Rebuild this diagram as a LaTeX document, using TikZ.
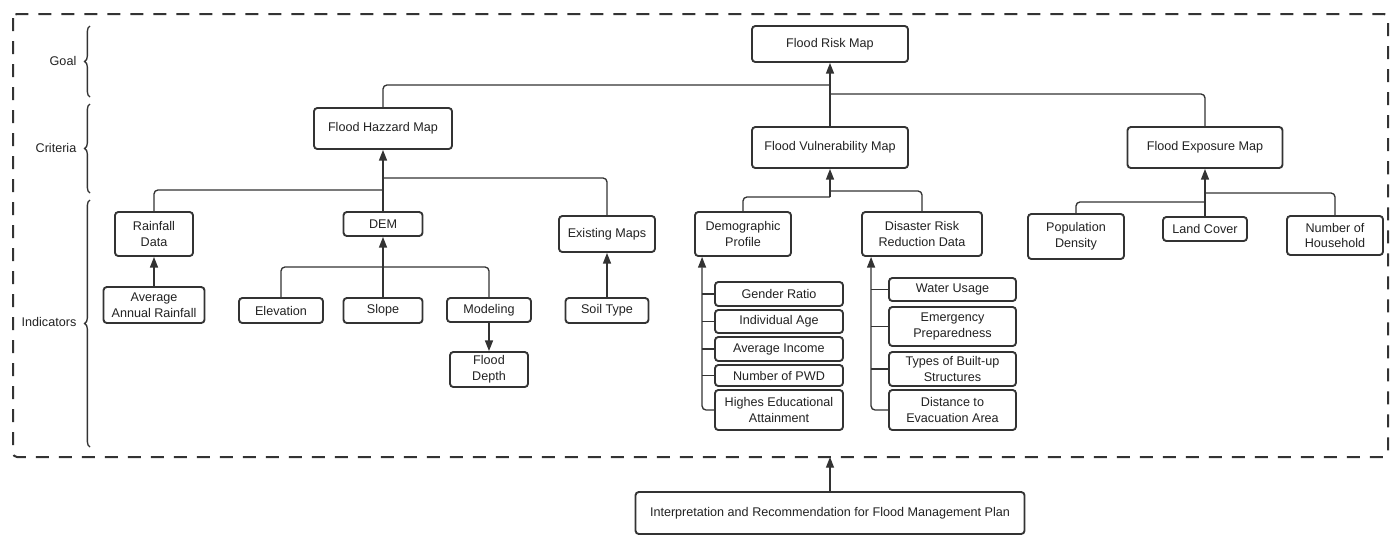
\documentclass[tikz,border=0pt]{standalone}
\usepackage{fontspec}
\setmainfont{Liberation Sans}
\usetikzlibrary{arrows.meta,decorations.pathreplacing,calc}
\definecolor{ink}{HTML}{333333}
\definecolor{txt}{HTML}{222222}
\begin{document}
\begin{tikzpicture}[x=0.75pt,y=-0.75pt,
  font=\fontsize{9.45}{11.8}\selectfont,
  box/.style 2 args={draw=ink, line width=1.4pt, rounded corners=2.5pt, fill=white,
    text=txt, align=center, inner sep=0pt,
    minimum width=#1*0.75pt, minimum height=#2*0.75pt},
  conn/.style={draw=ink, line width=1pt, rounded corners=3pt},
  tip/.style={-{Triangle[length=8pt,width=6pt]}},
  lbl/.style={text=txt},
  curly/.style={draw=ink, line width=1pt, decorate, decoration={brace, amplitude=4pt}}
]
\useasboundingbox[fill=white] (0,0) rectangle (1396,536);

% outer frame around the hierarchy
\draw[ink, line width=1.5pt, dash pattern=on 9.75pt off 7.5pt, rounded corners=3pt]
  (13,14) rectangle (1388,457);
\coordinate (frameB) at (830,457);

% level labels with braces
\draw[curly] (90,97) -- (90,26);
\draw[curly] (90,193) -- (90,104);
\draw[curly] (90,447) -- (90,200);
\node[lbl] (lgoal) at (63,61) {Goal};
\node[lbl] (lcrit) at (56,148) {Criteria};
\node[lbl] (lind) at (49,322) {Indicators};

% goal and criteria
\node[box={156}{36}] (frm) at (830,44) {Flood Risk Map};
\node[box={138}{41}] (fhm) at (383,128.5) {Flood Hazzard Map};
\node[box={156}{41}] (fvm) at (830,147.5) {Flood Vulnerability Map};
\node[box={155}{41}] (fem) at (1205,147.5) {Flood Exposure Map};

% indicators: hazard
\node[box={78}{44}] (rd) at (154,234) {Rainfall\\Data};
\node[box={79}{24}] (dem) at (383,224) {DEM};
\node[box={96}{36}] (exm) at (607,234) {Existing Maps};
\node[box={101}{36}] (aar) at (154,305) {Average\\Annual Rainfall};
\node[box={84}{25}] (elev) at (281,310.5) {Elevation};
\node[box={79}{25}] (slope) at (383,310.5) {Slope};
\node[box={84}{24}] (model) at (489,310) {Modeling};
\node[box={78}{35}] (fd) at (489,369.5) {Flood\\Depth};
\node[box={83}{25}] (soil) at (607,310.5) {Soil Type};

% indicators: vulnerability
\node[box={96}{44}] (dp) at (743,234) {Demographic\\Profile};
\node[box={120}{44}] (drr) at (922,234) {Disaster Risk\\Reduction Data};
\node[box={128}{24}] (ger) at (779,294) {Gender Ratio};
\node[box={128}{23}] (age) at (779,321.5) {Individual Age};
\node[box={128}{24}] (inc) at (779,349) {Average Income};
\node[box={128}{21}] (pwd) at (779,375.5) {Number of PWD};
\node[box={128}{40}] (hea) at (779,410) {Highes Educational\\Attainment};
\node[box={127}{23}] (wat) at (952.5,289.5) {Water Usage};
\node[box={127}{39}] (emg) at (952.5,326.5) {Emergency\\Preparedness};
\node[box={127}{34}] (typ) at (952.5,369) {Types of Built-up\\Structures};
\node[box={127}{40}] (dist) at (952.5,410) {Distance to\\Evacuation Area};

% indicators: exposure
\node[box={96}{45}] (pd) at (1076,236.5) {Population\\Density};
\node[box={84}{24}] (lc) at (1205,229) {Land Cover};
\node[box={96}{39}] (nh) at (1335,235.5) {Number of\\Household};

% management plan
\node[box={389}{42}] (irp) at (830,513) {Interpretation and Recommendation for Flood Management Plan};

% junction points
\coordinate (jR1) at (830,85);
\coordinate (jR2) at (830,94);
\coordinate (jH1) at (383,190);
\coordinate (jH2) at (383,178);
\coordinate (jD) at (383,267);
\coordinate (jV1) at (830,197);
\coordinate (jV2) at (830,191);
\coordinate (jE1) at (1205,202);
\coordinate (jE2) at (1205,193);
\coordinate (dpIn) at ($(dp.south west)+(8,0)$);
\coordinate (drrIn) at ($(drr.south west)+(10,0)$);

% criteria -> goal
\draw[conn] (fhm.north) |- (jR1);
\draw[conn] (fem.north) |- (jR2);
\draw[conn,tip] (fvm.north) -- (frm.south);

% hazard branch
\draw[conn] (rd.north) |- (jH1);
\draw[conn] (exm.north) |- (jH2);
\draw[conn,tip] (dem.north) -- (fhm.south);
\draw[conn,tip] (aar.north) -- (rd.south);
\draw[conn] (elev.north) |- (jD);
\draw[conn] (model.north) |- (jD);
\draw[conn,tip] (slope.north) -- (dem.south);
\draw[conn,tip] (model.south) -- (fd.north);
\draw[conn,tip] (soil.north) -- (exm.south);

% vulnerability branch
\draw[conn] (dp.north) |- (jV1);
\draw[conn] (drr.north) |- (jV2);
\draw[conn,tip] (jV1) -- (fvm.south);
\foreach \n in {ger,age,inc,pwd} \draw[conn] (\n.west) -- (\n.west -| dpIn);
\draw[conn,tip] (hea.west) -| (dpIn);
\foreach \n in {wat,emg,typ} \draw[conn] (\n.west) -- (\n.west -| drrIn);
\draw[conn,tip] (dist.west) -| (drrIn);

% exposure branch
\draw[conn] (pd.north) |- (jE1);
\draw[conn] (nh.north) |- (jE2);
\draw[conn,tip] (lc.north) -- (fem.south);

% plan -> framework
\draw[conn,tip] (irp.north) -- (frameB);
\end{tikzpicture}
\end{document}
